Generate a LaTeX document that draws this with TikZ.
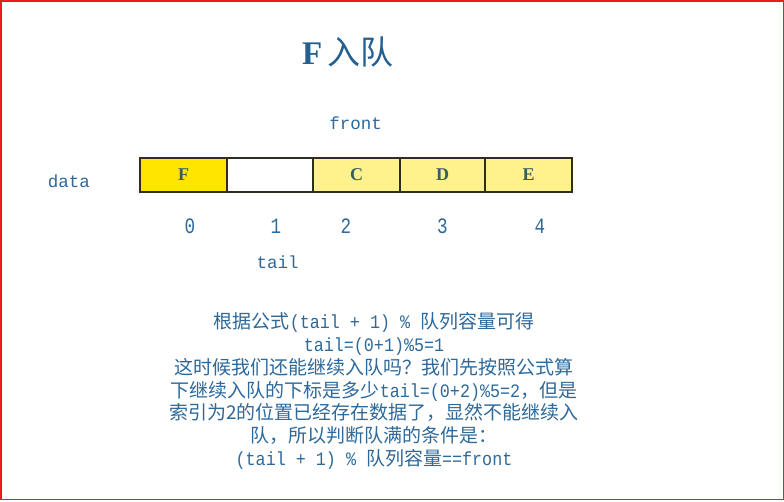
\documentclass[tikz,border=0pt]{standalone}
\usepackage{fontspec}
\setmainfont{Liberation Serif}
\setmonofont{Liberation Mono}
\newfontfamily\cjk{Noto Sans CJK SC}
\newfontfamily\lat[FakeStretch=0.88]{Liberation Mono}
\newfontfamily\idx[FakeStretch=0.8]{Liberation Mono}
\definecolor{framered}{RGB}{230,30,35}
\definecolor{titleblue}{RGB}{35,95,145}
\definecolor{txtblue}{RGB}{45,105,155}
\definecolor{cellfull}{RGB}{255,229,0}
\definecolor{celllight}{RGB}{255,242,140}
\definecolor{cellline}{RGB}{45,45,35}
\definecolor{letter}{RGB}{55,95,95}
\tikzset{
  cell/.style={draw=cellline, line width=1.3pt, minimum height=34pt, inner sep=0pt,
    font=\fontsize{18}{18}\selectfont\bfseries, text=letter},
  lbl/.style={text=txtblue, inner sep=0pt, font=\ttfamily\fontsize{17.5}{17.5}\selectfont},
  num/.style={text=txtblue, inner sep=0pt, anchor=base, font=\idx\fontsize{22}{22}\selectfont},
}
\begin{document}
\begin{tikzpicture}[x=1pt,y=-1pt]
\useasboundingbox (0,0) rectangle (784,501);
\fill[white] (0,0) rectangle (784,501);
\draw[framered, line width=1.5pt] (0.75,0.75) rectangle (783.25,499.5);

% title
\node[text=titleblue, inner sep=0pt] (title) at (348,52)
  {\fontsize{33}{33}\selectfont\bfseries F\,\cjk\mdseries\fontsize{33}{33}\selectfont 入队};

% labels
\node[lbl] (front) at (355.5,123) {front};
\node[lbl] (data) at (69,181) {data};
\node[lbl] (tail) at (277.5,262) {tail};

% cells
\node[cell, fill=cellfull, minimum width=87pt] (c0) at (183.5,175) {F};
\node[cell, fill=white, minimum width=86pt] (c1) at (270,175) {};
\node[cell, fill=celllight, minimum width=87pt] (c2) at (356.5,175) {C};
\node[cell, fill=celllight, minimum width=85pt] (c3) at (442.5,175) {D};
\node[cell, fill=celllight, minimum width=87pt] (c4) at (528.5,175) {E};

% indices
\node[num] (i0) at (190,233) {0};
\node[num] (i1) at (276,233) {1};
\node[num] (i2) at (346,233) {2};
\node[num] (i3) at (442.5,233) {3};
\node[num] (i4) at (540,233) {4};

% explanation
\node[text=txtblue, align=center, inner sep=0pt,
      font=\cjk\fontsize{19}{22.7}\selectfont] (expl) at (374,391)
{根据公式{\lat(tail + 1) \% }队列容量可得\\
 {\lat tail=(0+1)\%5=1}\\
 这时候我们还能继续入队吗？我们先按照公式算\\
 下继续入队的下标是多少{\lat tail=(0+2)\%5=2}，但是\\
 索引为2的位置已经存在数据了，显然不能继续入\\
 队，所以判断队满的条件是：\\
 {\lat(tail + 1) \% }队列容量{\lat==front}};
\end{tikzpicture}
\end{document}
